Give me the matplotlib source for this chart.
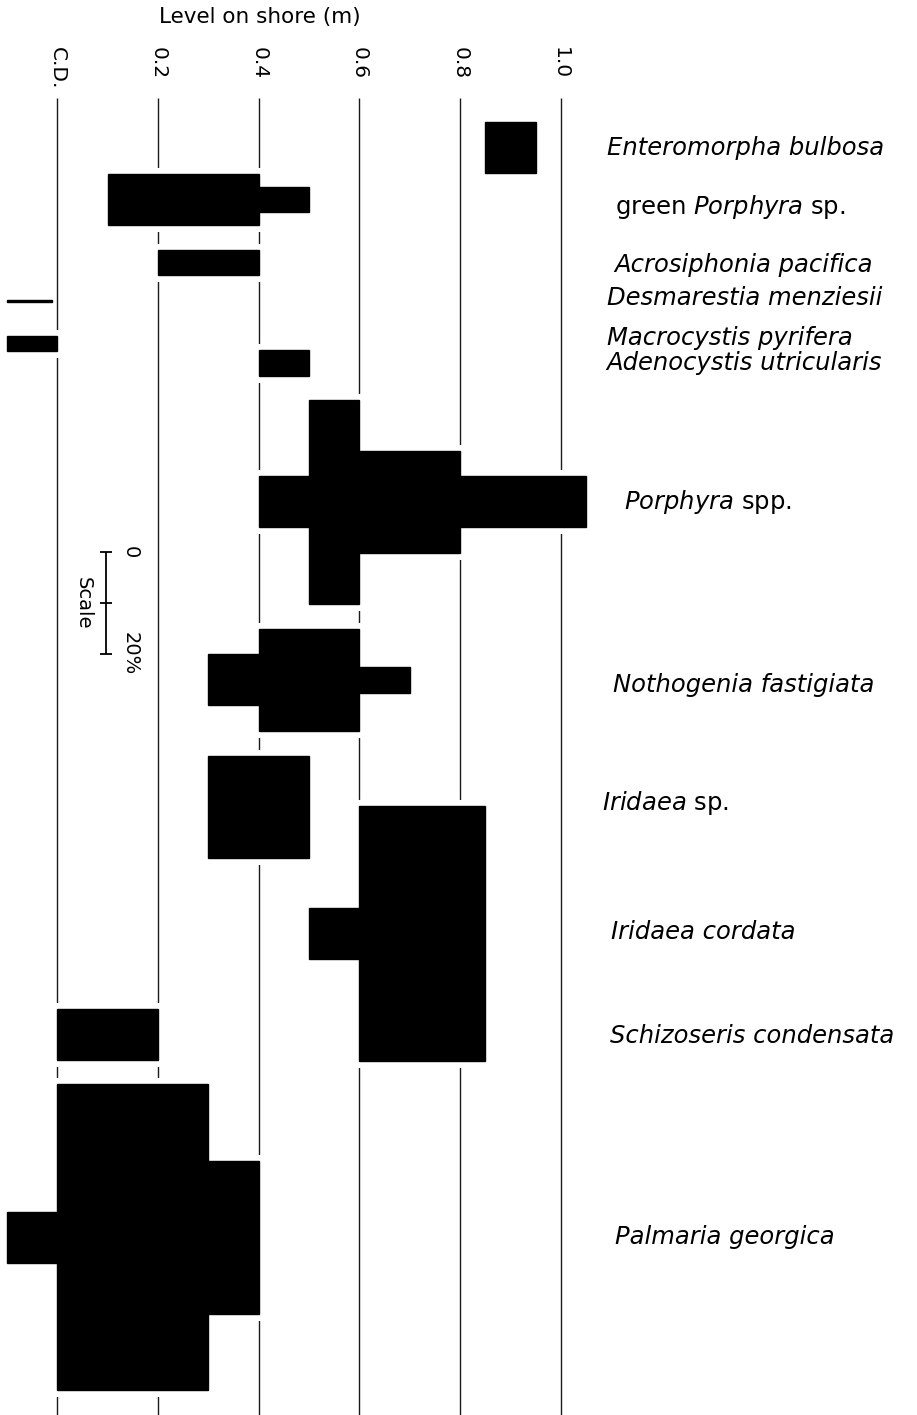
import numpy as np
import matplotlib.pyplot as plt

plt.rcParams['font.family'] = ['DejaVu Sans']
plt.rcParams['mathtext.fontset'] = 'custom'
plt.rcParams['mathtext.it'] = 'DejaVu Sans:italic'
plt.rcParams['mathtext.rm'] = 'DejaVu Sans'

# shore levels (m above chart datum)
levels = [0.0, 0.2, 0.4, 0.6, 0.8, 1.0]
level_labels = ['C.D.', '0.2', '0.4', '0.6', '0.8', '1.0']

species = ['Enteromorpha bulbosa',
           'green $\\mathit{Porphyra}$ sp.',
           'Acrosiphonia pacifica',
           'Desmarestia menziesii',
           'Macrocystis pyrifera',
           'Adenocystis utricularis',
           '$\\mathit{Porphyra}$ spp.',
           'Nothogenia fastigiata',
           '$\\mathit{Iridaea}$ sp.',
           'Iridaea cordata',
           'Schizoseris condensata',
           'Palmaria georgica']
all_italic = [True, False, True, True, True, True, False, True, False, True, True, True]

# level bands (from, to) and % cover in each band
band_low = [[0.85],
            [0.1, 0.4],
            [0.2],
            [-0.1],
            [-0.1],
            [0.4],
            [0.4, 0.5, 0.6, 0.8],
            [0.3, 0.4, 0.6],
            [0.3],
            [0.5, 0.6],
            [0.0],
            [-0.1, 0.0, 0.3]]
band_high = [[0.95],
             [0.4, 0.5],
             [0.4],
             [-0.01],
             [0.0],
             [0.5],
             [0.5, 0.6, 0.8, 1.05],
             [0.4, 0.6, 0.7],
             [0.5],
             [0.6, 0.85],
             [0.2],
             [0.0, 0.3, 0.4]]
cover = [[10],
         [10, 5],
         [5],
         [0.5],
         [3],
         [5],
         [10, 40, 20, 10],
         [10, 20, 5],
         [20],
         [10, 50],
         [10],
         [10, 60, 30]]

# layout: row centres / label anchors in % units down the page
row_centre = [29.0, 39.1, 51.5, 59.0, 67.4, 71.2, 98.4, 133.3, 158.2, 183.1, 202.9, 242.6]
label_x = [1.091, 1.107, 1.107, 1.091, 1.091, 1.091, 1.125, 1.104, 1.082, 1.100, 1.098, 1.107]
label_y = [29.0, 40.6, 52.0, 58.4, 66.3, 71.2, 98.4, 134.3, 157.5, 182.7, 203.1, 242.5]
halo = [9.4] * len(species)
halo[3] = 0

fig = plt.figure(figsize=(9.17, 14.15), dpi=100)
ax = fig.add_axes([0, 0, 1, 1])
ax.set_xlim(-0.1138, 1.7075)
ax.set_ylim(277.45, 0)
ax.axis('off')

# vertical level lines
ax.vlines(levels, 19.2, 277.45, color='#1a1a1a', lw=1.0, zorder=1)
for lv, lab in zip(levels, level_labels):
    ax.text(lv, 9.2, lab, rotation=270, ha='center', va='top', fontsize=14.5)
ax.text(0.403, 3.3, 'Level on shore (m)', ha='center', va='center', fontsize=15.5)

# kite bars: white halo underneath, black fill on top
for i in range(len(species)):
    lo = np.array(band_low[i])
    hi = np.array(band_high[i])
    c = np.array(cover[i])
    if halo[i] > 0:
        ax.bar(lo, c, width=hi - lo, bottom=row_centre[i] - c / 2, align='edge',
               color='white', edgecolor='white', lw=halo[i], zorder=2)
    ax.bar(lo, c, width=hi - lo, bottom=row_centre[i] - c / 2, align='edge',
           color='black', edgecolor='black', lw=1.0, zorder=3)
    ax.text(label_x[i], label_y[i], species[i], ha='left', va='center',
            fontsize=17.5, style='italic' if all_italic[i] else 'normal')

# scale bar, 0-20 % cover
sx, sy = 0.0967, 108.2
ax.vlines(sx, sy, sy + 20, color='black', lw=1.3, zorder=3)
ax.hlines([sy, sy + 10, sy + 20], sx - 0.012, sx + 0.012, color='black', lw=1.3, zorder=3)
ax.text(0.051, sy + 10, 'Scale', rotation=270, ha='center', va='center', fontsize=14)
ax.text(0.145, sy, '0', rotation=270, ha='center', va='center', fontsize=14)
ax.text(0.145, sy + 20, '20%', rotation=270, ha='center', va='center', fontsize=14)

fig.savefig('out.png', dpi=100, facecolor='white')
